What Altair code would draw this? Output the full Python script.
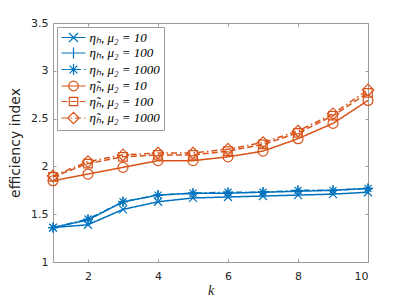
import altair as alt
import pandas as pd

k = [1, 2, 3, 4, 5, 6, 7, 8, 9, 10]
labels = [
    "η\u2095, μ\u2082 = 10",
    "η\u2095, μ\u2082 = 100",
    "η\u2095, μ\u2082 = 1000",
    "η\u0303\u2095, μ\u2082 = 10",
    "η\u0303\u2095, μ\u2082 = 100",
    "η\u0303\u2095, μ\u2082 = 1000",
]
eta_10 = [1.36, 1.39, 1.55, 1.63, 1.67, 1.68, 1.69, 1.70, 1.71, 1.73]
eta_100 = [1.36, 1.44, 1.63, 1.70, 1.72, 1.72, 1.73, 1.74, 1.75, 1.77]
eta_1000 = [1.36, 1.45, 1.63, 1.70, 1.72, 1.73, 1.73, 1.75, 1.75, 1.77]
teta_10 = [1.85, 1.92, 1.99, 2.06, 2.06, 2.10, 2.16, 2.29, 2.45, 2.69]
teta_100 = [1.89, 2.03, 2.10, 2.12, 2.12, 2.16, 2.23, 2.35, 2.53, 2.77]
teta_1000 = [1.90, 2.05, 2.12, 2.14, 2.14, 2.18, 2.25, 2.37, 2.55, 2.80]
x_ticks = [2, 4, 6, 8, 10]
y_ticks = [1, 1.5, 2, 2.5, 3, 3.5]

series_values = [eta_10, eta_100, eta_1000, teta_10, teta_100, teta_1000]
rows = []
for lab, vals in zip(labels, series_values):
    for kk, v in zip(k, vals):
        rows.append({"k": kk, "value": v, "series": lab})
df = pd.DataFrame(rows)

BLUE = "#0072BD"
ORANGE = "#D95319"
colors = [BLUE, BLUE, BLUE, ORANGE, ORANGE, ORANGE]
dashes = [[1, 0], [1, 0], [6, 3, 1.5, 3], [1, 0], [6, 3], [6, 3, 1.5, 3]]

# marker glyphs (unit paths)
markers = [
    "M-0.8,-0.8L0.8,0.8M-0.8,0.8L0.8,-0.8",
    "M-1,0H1M0,-1V1",
    "M-1,0H1M0,-1V1M-0.7,-0.7L0.7,0.7M-0.7,0.7L0.7,-0.7",
    "M-1,0A1,1 0 1,0 1,0A1,1 0 1,0 -1,0Z",
    "M-0.85,-0.85H0.85V0.85H-0.85Z",
    "M0,-1.15L1.15,0L0,1.15L-1.15,0Z",
]
# legend glyphs: line segment plus marker
SOLID = "M-1,0H3"
DASHED = "M-1,0H0M0.5,0H1.5M2,0H3"
DASHDOT = "M-1,0H0M0.5,0H0.75M1.25,0H2.25M2.75,0H3"
leg_paths = [
    SOLID + "M0.25,-0.75L1.75,0.75M0.25,0.75L1.75,-0.75",
    SOLID + "M1,-0.9V0.9",
    DASHDOT + "M0.1,0H1.9M1,-0.9V0.9M0.35,-0.65L1.65,0.65M0.35,0.65L1.65,-0.65",
    SOLID + "M0.2,0A0.8,0.8 0 1,0 1.8,0A0.8,0.8 0 1,0 0.2,0Z",
    DASHED + "M0.3,-0.7H1.7V0.7H0.3Z",
    DASHDOT + "M1,-0.95L1.95,0L1,0.95L0.05,0Z",
]

W, H = 315, 239
xscale = alt.Scale(domain=[1, 10], nice=False, zero=False)
yscale = alt.Scale(domain=[1, 3.5], nice=False, zero=False)
AX = "#9a9a9a"
TXT = "#262626"


def inward(orient, offset, vals):
    return alt.Axis(orient=orient, offset=offset, values=vals, labels=False,
                    domain=False, ticks=True, tickSize=3, tickColor=AX,
                    tickWidth=1, grid=False, title=None)


base = alt.Chart(df)

lines = base.mark_line(strokeWidth=1.5).encode(
    x=alt.X("k:Q", scale=xscale,
            axis=alt.Axis(orient="bottom", values=x_ticks, ticks=False, tickSize=0,
                          domain=False, grid=False, labelPadding=8,
                          labelFont="DejaVu Sans", labelFontSize=11, labelColor=TXT,
                          title="k", titleFont="Liberation Serif", titleFontStyle="italic",
                          titleFontSize=14, titleFontWeight="normal", titleColor=TXT,
                          titlePadding=2)),
    y=alt.Y("value:Q", scale=yscale,
            axis=alt.Axis(orient="left", values=y_ticks, format="~g", ticks=False,
                          tickSize=0, domain=False, grid=False, labelPadding=5,
                          labelFont="DejaVu Sans", labelFontSize=11, labelColor=TXT,
                          title="efficiency index", titleFont="DejaVu Sans",
                          titleFontSize=14, titleFontWeight="normal", titleColor=TXT,
                          titlePadding=8)),
    color=alt.Color("series:N", scale=alt.Scale(domain=labels, range=colors), legend=None),
    strokeDash=alt.StrokeDash("series:N", scale=alt.Scale(domain=labels, range=dashes),
                              legend=None),
    order=alt.Order("k:Q"),
)

points = base.mark_point(filled=False, size=100, strokeWidth=1.2, opacity=1).encode(
    x=alt.X("k:Q", scale=xscale, axis=inward("top", -H, x_ticks)),
    y=alt.Y("value:Q", scale=yscale, axis=inward("right", -W, y_ticks)),
    color=alt.Color("series:N", scale=alt.Scale(domain=labels, range=colors), legend=None),
    shape=alt.Shape("series:N", scale=alt.Scale(domain=labels, range=markers), legend=None),
)

leg = dict(orient="none", legendX=4, legendY=4, title=None, padding=3.5,
           fillColor="white", strokeColor=AX, symbolSize=144, symbolStrokeWidth=1.2,
           labelFont="Liberation Serif", labelFontStyle="italic", labelFontSize=13,
           labelColor="black", labelOffset=15, rowPadding=0.5, symbolOpacity=1)

legend_layer = base.mark_point(filled=False, strokeWidth=1.2, opacity=1).encode(
    x=alt.X("k:Q", scale=xscale, axis=inward("bottom", -H, x_ticks)),
    y=alt.Y("value:Q", scale=yscale, axis=inward("left", -W, y_ticks)),
    color=alt.Color("series:N", scale=alt.Scale(domain=labels, range=colors),
                    legend=alt.Legend(**leg)),
    shape=alt.Shape("series:N", scale=alt.Scale(domain=labels, range=leg_paths),
                    legend=alt.Legend(**leg)),
).transform_filter("false")

chart = alt.layer(lines, points, legend_layer).resolve_scale(
    color="independent", shape="independent", strokeDash="independent"
).resolve_axis(x="independent", y="independent").properties(
    width=W, height=H,
    autosize=alt.AutoSizeParams(type="none"),
    padding={"left": 45, "top": 15, "right": 31, "bottom": 35},
    background="white",
).configure_view(stroke=AX, strokeWidth=1)

chart.save("out.html", embed_options={"renderer": "svg", "actions": False})
